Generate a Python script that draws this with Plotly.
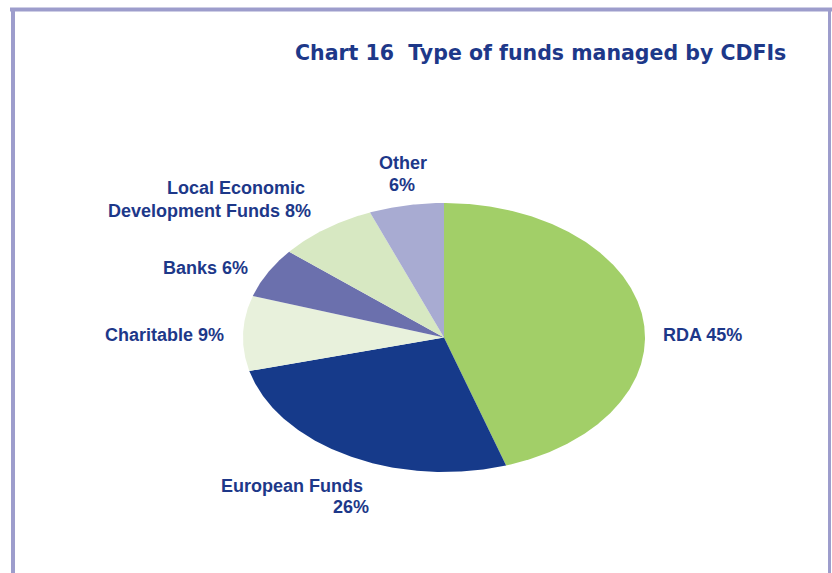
import numpy as np
import plotly.graph_objects as go

# Fund types, shares (%) and slice colours, clockwise from 12 o'clock
categories = ["RDA", "European Funds", "Charitable", "Banks",
              "Local Economic Development Funds", "Other"]
shares = [45, 26, 9, 6, 8, 6]
colors = ["#a2cf68", "#163a8a", "#e8f1dc", "#6b70ad", "#d7e8c2", "#a8abd2"]

W, H = 832, 573
TEXT = "#1d3889"
LABEL_FONT = "Liberation Sans, Arial, sans-serif"
TITLE_FONT = "DejaVu Sans, Arial, sans-serif"

# Ellipse placement in pixels (centre and semi-axes)
CX, CY, RX, RY = 444, 337.5, 201, 134.5

fig = go.Figure()

# Slices as filled wedges on a unit circle; the axis ranges stretch it to an ellipse
total = float(sum(shares))
start = 0.0
for name, val, col in zip(categories, shares, colors):
    a0 = start / total * 2 * np.pi
    a1 = (start + val) / total * 2 * np.pi
    t = np.linspace(a0, a1, max(8, int(val * 8)))
    xs = np.concatenate([[0.0], np.sin(t), [0.0]])
    ys = np.concatenate([[0.0], np.cos(t), [0.0]])
    fig.add_trace(go.Scatter(x=xs, y=ys, fill="toself", mode="lines",
                             fillcolor=col, line=dict(width=0, color=col),
                             name=name, hoverinfo="name", showlegend=False))
    start += val

xr = [-CX / RX, (W - CX) / RX]
yr = [-(H - CY) / RY, CY / RY]


def lab(text, px, py, xanchor="left", align="left"):
    fig.add_annotation(text=text, x=px / W, y=1 - py / H, xref="paper", yref="paper",
                       xanchor=xanchor, yanchor="middle", align=align, showarrow=False,
                       font=dict(family=LABEL_FONT, size=18, color=TEXT))


pct = {c: f"{v}%" for c, v in zip(categories, shares)}
lab(f"<b>RDA {pct['RDA']}</b>", 661, 335)
lab("<b>European Funds</b>", 365, 486, "right")
lab(f"<b>{pct['European Funds']}</b>", 371, 507, "right")
lab(f"<b>Charitable {pct['Charitable']}</b>", 226, 335, "right")
lab(f"<b>Banks {pct['Banks']}</b>", 250, 268, "right")
lab("<b>Local Economic</b>", 307, 188, "right")
lab(f"<b>Development Funds {pct['Local Economic Development Funds']}</b>", 313, 211, "right")
lab("<b>Other</b>", 403, 163, "center")
lab(f"<b>{pct['Other']}</b>", 402, 185, "center")

# Title
fig.add_annotation(text="<b>Chart 16  Type of funds managed by CDFIs</b>",
                   x=788 / W, y=1 - 53 / H, xref="paper", yref="paper",
                   xanchor="right", yanchor="middle", showarrow=False,
                   font=dict(family=TITLE_FONT, size=20.5, color=TEXT))

# Frame lines (top, left, right)
frame = "#9d9dcc"
fig.add_shape(type="line", xref="paper", yref="paper", x0=10 / W, x1=1,
              y0=1 - 9.5 / H, y1=1 - 9.5 / H, line=dict(color=frame, width=4))
fig.add_shape(type="line", xref="paper", yref="paper", x0=13 / W, x1=13 / W,
              y0=0, y1=1 - 8 / H, line=dict(color=frame, width=4))
fig.add_shape(type="line", xref="paper", yref="paper", x0=829.5 / W, x1=829.5 / W,
              y0=0, y1=1 - 8 / H, line=dict(color=frame, width=3))

fig.update_layout(
    width=W, height=H, margin=dict(l=0, r=0, t=0, b=0),
    paper_bgcolor="white", plot_bgcolor="white",
    xaxis=dict(range=xr, visible=False, fixedrange=True),
    yaxis=dict(range=yr, visible=False, fixedrange=True),
    showlegend=False,
)

fig.write_html("out.html")
